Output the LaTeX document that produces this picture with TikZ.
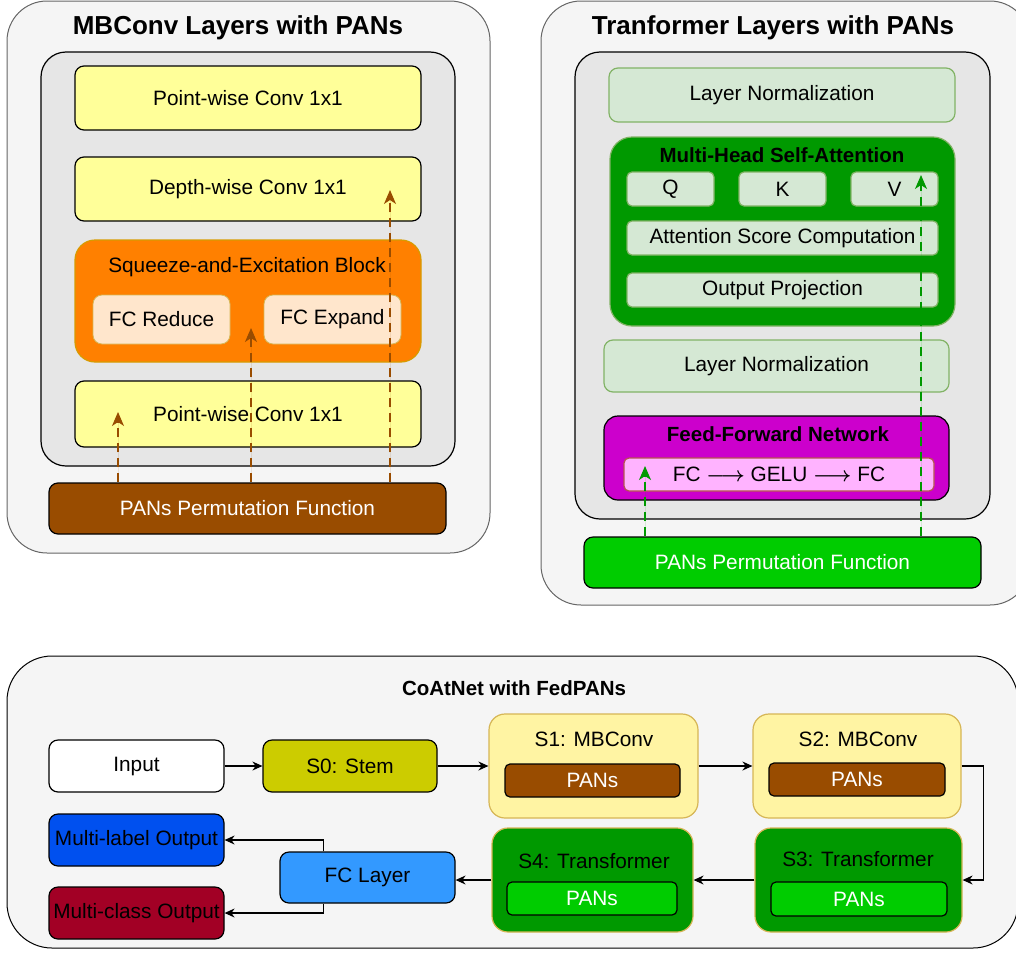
\documentclass[tikz,border=0pt]{standalone}
\usepackage{fontspec}
\usepackage{bm}
\setmainfont{Liberation Sans}
\usetikzlibrary{arrows.meta}

\definecolor{panelfill}{HTML}{F5F5F5}
\definecolor{panelline}{HTML}{666666}
\definecolor{innerfill}{HTML}{E6E6E6}
\definecolor{convfill}{HTML}{FFFF99}
\definecolor{sefill}{HTML}{FF8000}
\definecolor{seline}{HTML}{D79B00}
\definecolor{fcfill}{HTML}{FFE6CC}
\definecolor{pansbrown}{HTML}{994C00}
\definecolor{lnfill}{HTML}{D5E8D4}
\definecolor{lnline}{HTML}{82B366}
\definecolor{attfill}{HTML}{009900}
\definecolor{ffnfill}{HTML}{CC00CC}
\definecolor{ffnin}{HTML}{FFB3FF}
\definecolor{ffnline}{HTML}{B85450}
\definecolor{pansgreen}{HTML}{00CC00}
\definecolor{stemfill}{HTML}{CCCC00}
\definecolor{stagefill}{HTML}{FFF4A3}
\definecolor{stageline}{HTML}{D6B656}
\definecolor{fclayer}{HTML}{3399FF}
\definecolor{labelblue}{HTML}{0050EF}
\definecolor{classred}{HTML}{A20025}

\tikzstyle{panel} = [rectangle, rounded corners=40pt, fill = panelfill, draw = panelline, line width=1pt, inner sep=0pt]
\tikzstyle{inner} = [rectangle, rounded corners=25pt, fill = innerfill, draw = black, line width=1.2pt, inner sep=0pt]
\tikzstyle{rec} = [rectangle, rounded corners=9pt, fill = convfill, draw = black, line width=1.2pt, inner sep=0pt, text centered, font=\fontsize{20.8}{24}\selectfont]
\tikzstyle{rec1} = [rec, fill = sefill, draw = seline]
\tikzstyle{rec2} = [rec, fill = fcfill, draw = stageline, line width=0.8pt]
\tikzstyle{rec3} = [rec, fill = lnfill, draw = lnline]
\tikzstyle{rec4} = [rec, fill = attfill, draw = lnline, rounded corners=22pt]
\tikzstyle{pans} = [rec, fill = pansbrown, text = white]
\tikzstyle{stage} = [rec, draw = stageline, rounded corners=16pt]
\tikzstyle{title} = [font=\fontsize{26}{30}\selectfont\bfseries]
\tikzstyle{subtitle} = [font=\fontsize{20.5}{24}\selectfont\bfseries]
\tikzstyle{txt} = [font=\fontsize{20.8}{24}\selectfont, inner sep=1pt]
\tikzstyle{arrow} = [line width=1.2pt, -{Stealth[length=10pt,width=9pt]}, draw = black]
\tikzstyle{dasharrow} = [line width=1.2pt, dashed, dash pattern=on 9pt off 6pt, -{Stealth[length=14pt,width=12pt,inset=4pt]}]

\begin{document}
\begin{tikzpicture}[x=1pt, y=-1pt]
    \useasboundingbox (0,0) rectangle (1016,953);
    % MBConv part
    \node(mbpanel)[panel, minimum width=483, minimum height=552] at (248.5,277) {};
    \node(mbtitle)[title] at (238,28) {MBConv Layers with PANs};
    \node(mbinner)[inner, minimum width=414, minimum height=414] at (248,259) {};
    \node(pwtop)[rec, minimum width=346, minimum height=64] at (248,98) {Point-wise Conv 1x1};
    \node(dwconv)[rec, minimum width=346, minimum height=64] at (248,189) {Depth-wise Conv 1x1};
    \node(seblock)[rec1, minimum width=346, minimum height=122, rounded corners=20pt] at (248,301) {};
    \node(setitle)[txt] at (247,267) {Squeeze-and-Excitation Block};
    \node(fcreduce)[rec2, minimum width=137, minimum height=49] at (161.5,319.5) {FC Reduce};
    \node(fcexpand)[rec2, minimum width=137, minimum height=49] at (332.5,319.5) {FC Expand};
    \node(pwbottom)[rec, minimum width=346, minimum height=66] at (248,414) {Point-wise Conv 1x1};
    \node(mbpans)[pans, minimum width=397, minimum height=51] at (247.5,508.5) {PANs Permutation Function};
    \coordinate(mbtip1) at (118,412);
    \coordinate(mbtip2) at (251,328);
    \coordinate(mbtip3) at (390,190);
    \foreach \t in {mbtip1, mbtip2, mbtip3}
        \draw[dasharrow, draw = pansbrown, fill = pansbrown] (mbpans.north -| \t) -- (\t);

    % Transformer part
    \node(trpanel)[panel, minimum width=489, minimum height=604] at (785.5,303) {};
    \node(trtitle)[title] at (773,28) {Tranformer Layers with PANs};
    \node(trinner)[inner, minimum width=415, minimum height=467] at (782.5,285.5) {};
    \node(lntop)[rec3, minimum width=346, minimum height=54] at (782,95) {Layer Normalization};
    \node(mhsa)[rec4, minimum width=345, minimum height=189] at (782.5,231.5) {};
    \node(mhsatitle)[subtitle] at (782,155) {Multi-Head Self-Attention};
    \node(qbox)[rec3, minimum width=87, minimum height=34, rounded corners=5pt] at (670.5,189) {Q};
    \node(kbox)[rec3, minimum width=87, minimum height=34, rounded corners=5pt] at (782.5,189) {K};
    \node(vbox)[rec3, minimum width=87, minimum height=34, rounded corners=5pt] at (894.5,189) {V};
    \node(score)[rec3, minimum width=311, minimum height=34, rounded corners=5pt] at (782.5,238) {Attention Score Computation};
    \node(outproj)[rec3, minimum width=311, minimum height=34, rounded corners=5pt] at (782.5,290) {Output Projection};
    \node(lnbottom)[rec3, minimum width=345, minimum height=52] at (776.5,366) {Layer Normalization};
    \node(ffn)[rec, fill = ffnfill, minimum width=345, minimum height=84, rounded corners=14pt] at (776.5,458) {};
    \node(ffntitle)[subtitle] at (778,434) {Feed-Forward Network};
    \node(ffnchain)[rec, fill = ffnin, draw = ffnline, minimum width=310, minimum height=33, rounded corners=5pt] at (779,474.5) {FC $\bm{\longrightarrow}$ GELU $\bm{\longrightarrow}$ FC};
    \node(trpans)[pans, fill = pansgreen, minimum width=397, minimum height=51] at (782.5,562.5) {PANs Permutation Function};
    \coordinate(trtip1) at (645,466);
    \coordinate(trtip2) at (921,175);
    \foreach \t in {trtip1, trtip2}
        \draw[dasharrow, draw = attfill, fill = attfill] (trpans.north -| \t) -- (\t);

    % CoAtNet overview
    \node(cpanel)[panel, draw = black, rounded corners=45pt, minimum width=1011, minimum height=292] at (512.5,802) {};
    \node(ctitle)[subtitle] at (514,688) {CoAtNet with FedPANs};
    \node(input)[rec, fill = white, minimum width=175, minimum height=52] at (136.5,766) {Input};
    \node(stem)[rec, fill = stemfill, minimum width=174, minimum height=52] at (350,766) {S0: Stem};
    \node(s1)[stage, fill = stagefill, minimum width=209, minimum height=104] at (593.5,766) {};
    \node(s1title)[txt] at (594,739) {S1: MBConv};
    \node(s1pans)[pans, minimum width=175, minimum height=33, rounded corners=5pt] at (592.5,780.5) {PANs};
    \node(s2)[stage, fill = stagefill, minimum width=208, minimum height=104] at (857,766) {};
    \node(s2title)[txt] at (858,739) {S2: MBConv};
    \node(s2pans)[pans, minimum width=176, minimum height=33, rounded corners=5pt] at (857,779.5) {PANs};
    \node(s3)[stage, fill = attfill, minimum width=207, minimum height=104] at (858.5,880) {};
    \node(s3title)[txt] at (858,859) {S3: Transformer};
    \node(s3pans)[pans, fill = pansgreen, minimum width=176, minimum height=34, rounded corners=5pt] at (859,899) {PANs};
    \node(s4)[stage, fill = attfill, minimum width=201, minimum height=104] at (592.5,880) {};
    \node(s4title)[txt] at (594,861) {S4: Transformer};
    \node(s4pans)[pans, fill = pansgreen, minimum width=170, minimum height=33, rounded corners=5pt] at (592,898.5) {PANs};
    \node(fclayer)[rec, fill = fclayer, minimum width=175, minimum height=51] at (367.5,877.5) {FC Layer};
    \node(mlabel)[rec, fill = labelblue, minimum width=175, minimum height=52] at (136.5,840) {Multi-label Output};
    \node(mclass)[rec, fill = classred, minimum width=175, minimum height=52] at (136.5,913) {Multi-class Output};
    \draw[arrow] (input) -- (stem);
    \draw[arrow] (stem) -- (s1);
    \draw[arrow] (s1) -- (s2);
    \draw[arrow] (s2.east) -- ++(22,0) |- (s3.east);
    \draw[arrow] (s3) -- (s4);
    \draw[arrow] (s4.west) -- (s4.west -| fclayer.east);
    \draw[arrow] ([xshift=-44]fclayer.north) |- (mlabel.east);
    \draw[arrow] ([xshift=-44]fclayer.south) |- (mclass.east);
\end{tikzpicture}
\end{document}
